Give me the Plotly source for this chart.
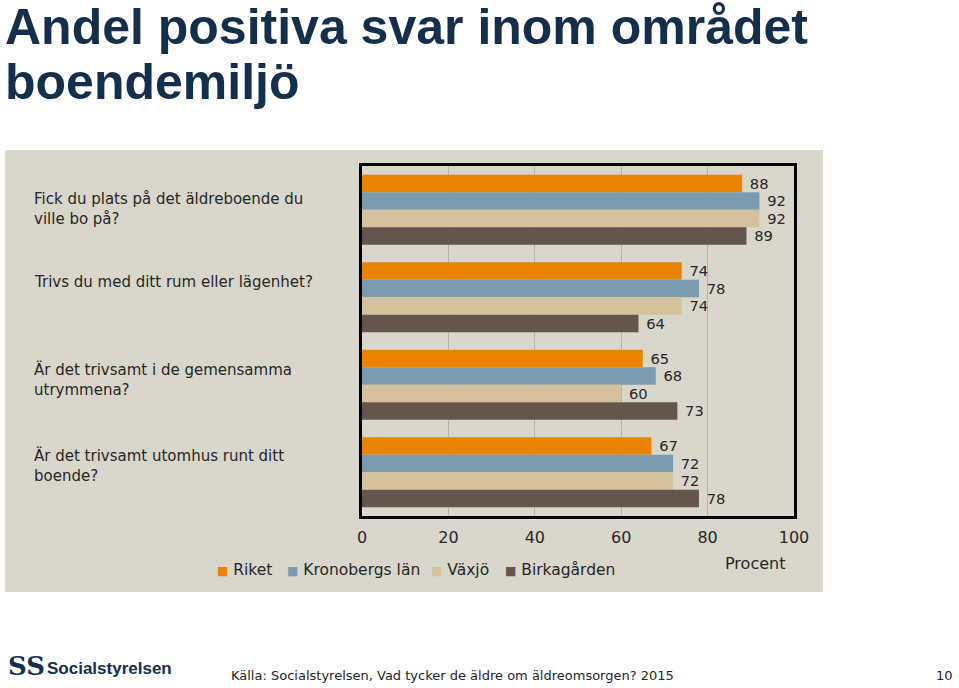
import plotly.graph_objects as go

categories = [
    "Fick du plats på det äldreboende du<br>ville bo på?",
    "Trivs du med ditt rum eller lägenhet?",
    "Är det trivsamt i de gemensamma<br>utrymmena?",
    "Är det trivsamt utomhus runt ditt<br>boende?",
]
series_names = ["Riket", "Kronobergs län", "Växjö", "Birkagården"]
riket = [88, 74, 65, 67]
kronoberg = [92, 78, 68, 72]
vaxjo = [92, 74, 60, 72]
birka = [89, 64, 73, 78]
series_values = [riket, kronoberg, vaxjo, birka]
colors = ["#e98300", "#7b9bb1", "#d5c29d", "#64564c"]
x_ticks = [0, 20, 40, 60, 80, 100]

FONT = "DejaVu Sans"
TXT = "#262626"

W, H = 959, 688
L, R, T, B = 362, 165, 166, 172
pw = W - L - R
ph = H - T - B

def px_x(px):
    return (px - L) / pw

def px_y(py):
    return (H - B - py) / ph

fig = go.Figure()
for name, vals, col in zip(series_names, series_values, colors):
    fig.add_trace(go.Bar(
        y=categories, x=vals, name=name, orientation="h",
        marker=dict(color=col, line=dict(width=0)),
        text=[" " + str(v) for v in vals], textposition="outside",
        textfont=dict(family=FONT, size=16, color=TXT),
        cliponaxis=False, showlegend=False,
    ))

shapes = [dict(type="rect", xref="paper", yref="paper",
               x0=px_x(5), x1=px_x(823), y0=px_y(592), y1=px_y(150),
               fillcolor="#d9d7cb", line=dict(width=0), layer="below")]

annotations = []
label_tops = [190, 273, 360, 446]
for cat, top in zip(categories, label_tops):
    annotations.append(dict(
        xref="paper", yref="paper", x=px_x(32), y=px_y(top - 2),
        xanchor="left", yanchor="top", align="left", showarrow=False,
        text=cat, font=dict(family=FONT, size=15, color=TXT)))

# legend drawn as coloured squares followed by series names
legend_x = [215, 285, 429, 503]
for name, col, lx in zip(series_names, colors, legend_x):
    annotations.append(dict(
        xref="paper", yref="paper", x=px_x(lx), y=px_y(570), xanchor="left", yanchor="middle",
        showarrow=False,
        text=f"<span style='color:{col};font-size:12px'>■</span> {name}",
        font=dict(family=FONT, size=15.5, color=TXT)))

annotations += [
    dict(xref="paper", yref="paper", x=px_x(755), y=px_y(563), text="Procent",
         xanchor="center", yanchor="middle",
         showarrow=False, font=dict(family=FONT, size=16, color=TXT)),
    dict(xref="paper", yref="paper", x=px_x(3), y=px_y(57), xanchor="left", yanchor="bottom",
         text="<b>Andel positiva svar inom området</b>", showarrow=False,
         font=dict(family="Liberation Sans", size=50, color="#132f4c")),
    dict(xref="paper", yref="paper", x=px_x(3), y=px_y(112), xanchor="left", yanchor="bottom",
         text="<b>boendemiljö</b>", showarrow=False,
         font=dict(family="Liberation Sans", size=50, color="#132f4c")),
    dict(xref="paper", yref="paper", x=px_x(6), y=px_y(666), xanchor="left", yanchor="middle",
         text="<b>SS</b>", showarrow=False,
         font=dict(family="DejaVu Serif", size=26, color="#132f4c")),
    dict(xref="paper", yref="paper", x=px_x(45), y=px_y(668), xanchor="left", yanchor="middle",
         text="<b>Socialstyrelsen</b>", showarrow=False,
         font=dict(family="Liberation Sans", size=17, color="#132f4c")),
    dict(xref="paper", yref="paper", x=px_x(229), y=px_y(675), xanchor="left", yanchor="middle",
         text="Källa: Socialstyrelsen, Vad tycker de äldre om äldreomsorgen? 2015", showarrow=False,
         font=dict(family=FONT, size=13, color=TXT)),
    dict(xref="paper", yref="paper", x=px_x(955), y=px_y(675), xanchor="right", yanchor="middle",
         text="10", showarrow=False, font=dict(family=FONT, size=13, color=TXT)),
]

fig.update_layout(
    width=W, height=H,
    margin=dict(l=L, r=R, t=T, b=B, pad=0),
    paper_bgcolor="white", plot_bgcolor="white",
    barmode="group", bargap=0.2, bargroupgap=0,
    font=dict(family=FONT, size=16, color=TXT),
    showlegend=False,
    xaxis=dict(range=[0, 100], tickvals=x_ticks, showgrid=True, gridcolor="#b3b3b3", gridwidth=1,
               showline=True, linecolor="black", linewidth=3, mirror=True, zeroline=False,
               ticks="", ticklabelstandoff=5, tickfont=dict(family=FONT, size=16, color=TXT)),
    yaxis=dict(autorange="reversed", showticklabels=False, showgrid=False,
               showline=True, linecolor="black", linewidth=3, mirror=True, ticks=""),
    shapes=shapes, annotations=annotations,
)
fig.write_html("out.html", config={"displayModeBar": False},
               post_script="document.body.style.margin='0px';")
